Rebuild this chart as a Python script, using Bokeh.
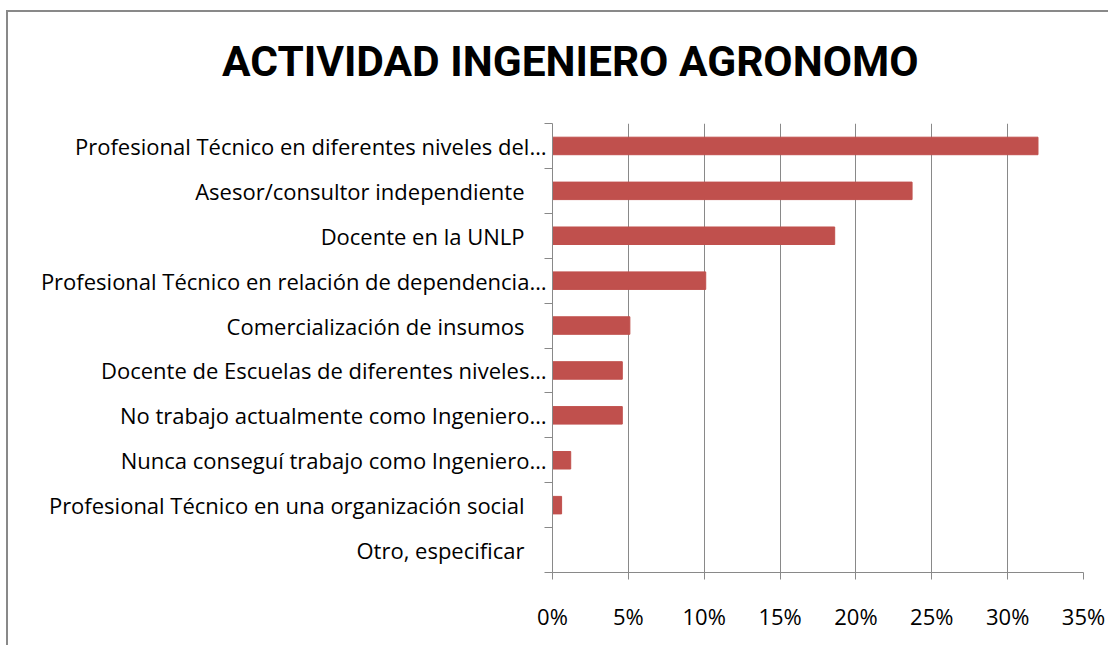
from bokeh.plotting import figure
from bokeh.models import Range1d, FixedTicker, PrintfTickFormatter, Div
from bokeh.layouts import column
from bokeh.embed import file_html
from bokeh.resources import INLINE

title_text = "ACTIVIDAD INGENIERO AGRONOMO"
categories = [
    "Profesional Técnico en diferentes niveles del…",
    "Asesor/consultor independiente\u2003",
    "Docente en la UNLP\u2003",
    "Profesional Técnico en relación de dependencia…",
    "Comercialización de insumos\u2003",
    "Docente de Escuelas de diferentes niveles…",
    "No trabajo actualmente como Ingeniero…",
    "Nunca conseguí trabajo como Ingeniero…",
    "Profesional Técnico en una organización social\u2003",
    "Otro, especificar\u2003",
]
values = [32.0, 23.7, 18.6, 10.1, 5.1, 4.6, 4.6, 1.2, 0.6, 0.0]
x_ticks = [0, 5, 10, 15, 20, 25, 30, 35]

n = len(categories)
centers = [n - i - 0.5 for i in range(n)]
bounds = list(range(n + 1))

FONT = "Open Sans"
GRAY = "#898989"

title = Div(text=('<div style="font-family: Roboto; font-weight: bold; font-size: 42.5px; '
                  'line-height: 100px; padding-left: 214px; white-space: nowrap; '
                  'color: #000000; margin: 0;">' + title_text + '</div>'),
            width=1100, height=100, margin=0)

p = figure(width=1100, height=533, output_backend="svg", toolbar_location=None,
           x_range=Range1d(0, 35), y_range=Range1d(0, n),
           min_border_left=544, min_border_right=25, min_border_top=11, min_border_bottom=73)

p.hbar(y=centers, right=values, height=0.39, left=0,
       fill_color="#C0504D", line_color="#C0504D")

p.outline_line_color = None
p.ygrid.grid_line_color = None
p.xgrid.grid_line_color = GRAY
p.xgrid.ticker = FixedTicker(ticks=x_ticks)

xa = p.xaxis[0]
xa.ticker = FixedTicker(ticks=x_ticks)
xa.formatter = PrintfTickFormatter(format="%d%%")
xa.axis_line_color = GRAY
xa.major_tick_line_color = GRAY
xa.major_tick_out = 7
xa.major_tick_in = 0
xa.minor_tick_line_color = None
xa.major_label_text_font = FONT
xa.major_label_text_font_size = "22px"
xa.major_label_text_color = "#000000"
xa.major_label_standoff = 21

ya = p.yaxis[0]
ya.ticker = FixedTicker(ticks=centers, minor_ticks=bounds)
ya.major_label_overrides = {c: lab for c, lab in zip(centers, categories)}
ya.axis_line_color = GRAY
ya.major_tick_out = 0
ya.major_tick_in = 0
ya.minor_tick_out = 8
ya.minor_tick_in = 0
ya.minor_tick_line_color = GRAY
ya.major_label_text_font = FONT
ya.major_label_text_font_size = "22px"
ya.major_label_text_color = "#000000"
ya.major_label_standoff = -2

layout = column(title, p, spacing=0)
layout.styles = {"margin-left": "6px", "margin-top": "10px",
                 "border-top": "2px solid #898989", "border-left": "2px solid #898989"}

open("out.html", "w").write(file_html(layout, INLINE))
